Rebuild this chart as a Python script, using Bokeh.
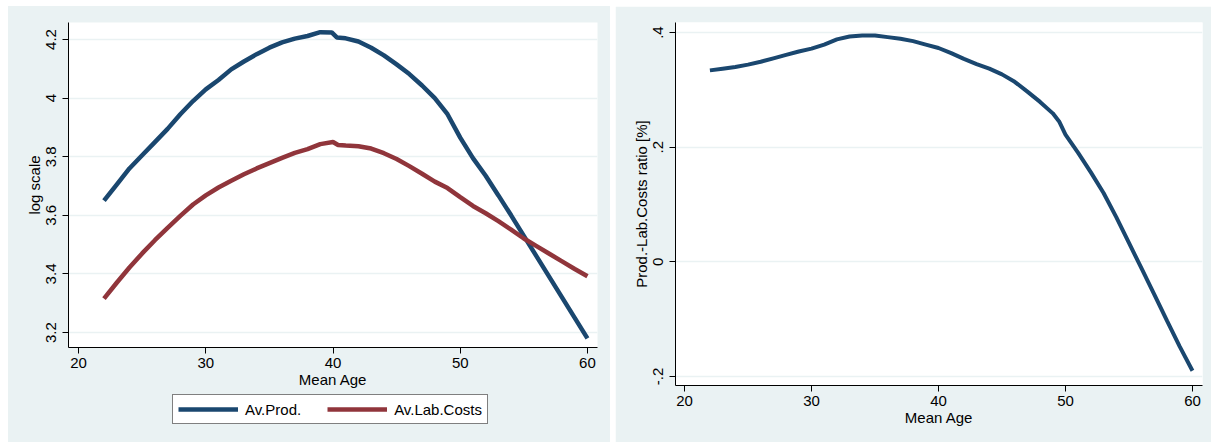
from bokeh.plotting import figure
from bokeh.layouts import row, column
from bokeh.models import Range1d, FixedTicker, CustomJSTickFormatter, Legend, LegendItem, Spacer
from bokeh.embed import file_html
from bokeh.resources import INLINE

# ---- data ----
age_prod = [22, 23, 24, 25, 26, 27, 28, 29, 30, 31, 32, 33, 34, 35, 36, 37, 38, 39, 39.9,
            40.3, 41, 42, 43, 44, 45, 46, 47, 48, 49, 50, 51, 52, 53, 54, 55, 56, 57, 58, 59, 60]
av_prod = [3.650, 3.705, 3.760, 3.805, 3.850, 3.895, 3.945, 3.990, 4.030, 4.062, 4.098, 4.125,
           4.150, 4.172, 4.190, 4.203, 4.212, 4.225, 4.224, 4.207, 4.204, 4.193, 4.172, 4.146,
           4.115, 4.082, 4.043, 4.000, 3.945, 3.865, 3.795, 3.735, 3.668, 3.600, 3.530, 3.460,
           3.390, 3.320, 3.250, 3.180]

age_cost = [22, 23, 24, 25, 26, 27, 28, 29, 30, 31, 32, 33, 34, 35, 36, 37, 38, 39, 40,
            40.4, 41, 42, 43, 44, 45, 46, 47, 48, 49, 50, 51, 52, 53, 54, 55, 56, 57, 58, 59, 60]
av_lab_costs = [3.316, 3.370, 3.422, 3.470, 3.515, 3.557, 3.598, 3.637, 3.668, 3.695, 3.718,
                3.740, 3.760, 3.778, 3.796, 3.813, 3.826, 3.843, 3.850, 3.840, 3.838, 3.836,
                3.828, 3.812, 3.792, 3.768, 3.742, 3.715, 3.693, 3.662, 3.632, 3.607, 3.580,
                3.551, 3.521, 3.495, 3.469, 3.443, 3.417, 3.392]

age_ratio = [22, 23, 24, 25, 26, 27, 28, 29, 30, 31, 32, 33, 34, 35, 36, 37, 38, 39, 40, 41,
             42, 43, 44, 45, 46, 47, 48, 49, 49.5, 50, 51, 52, 53, 54, 55, 56, 57, 58, 59, 60]
ratio = [0.334, 0.337, 0.340, 0.344, 0.349, 0.355, 0.361, 0.367, 0.372, 0.379, 0.388, 0.393,
         0.395, 0.395, 0.392, 0.389, 0.385, 0.379, 0.373, 0.364, 0.354, 0.345, 0.337, 0.327,
         0.314, 0.297, 0.279, 0.259, 0.245, 0.222, 0.190, 0.156, 0.120, 0.078, 0.033, -0.012,
         -0.057, -0.103, -0.148, -0.190]

series_labels = ["Av.Prod.", "Av.Lab.Costs"]
x_ticks = [20, 30, 40, 50, 60]
y_ticks_left = [3.2, 3.4, 3.6, 3.8, 4.0, 4.2]
y_ticks_right = [-0.2, 0.0, 0.2, 0.4]

BG = "#EAF2F3"
NAVY = "#1A476F"
MAROON = "#90353B"
FONT = "Liberation Sans"
FS = "15px"


def style(p, yticks, fmt_code):
    p.xaxis.ticker = FixedTicker(ticks=x_ticks)
    p.yaxis.ticker = FixedTicker(ticks=yticks)
    p.yaxis.formatter = CustomJSTickFormatter(code=fmt_code)
    p.xaxis.formatter = CustomJSTickFormatter(code="return Math.round(tick).toString();")
    for ax in (p.xaxis, p.yaxis):
        ax.axis_line_color = "#000000"
        ax.axis_line_width = 1
        ax.major_tick_line_color = "#000000"
        ax.major_tick_out = 6
        ax.major_tick_in = 0
        ax.minor_tick_line_color = None
        ax.major_label_text_font = FONT
        ax.major_label_text_font_size = FS
        ax.major_label_text_color = "#000000"
        ax.axis_label_text_font = FONT
        ax.axis_label_text_font_size = FS
        ax.axis_label_text_font_style = "normal"
        ax.axis_label_text_color = "#000000"
    p.yaxis.major_label_orientation = "vertical"
    p.yaxis.major_label_standoff = 6
    p.yaxis.axis_label_standoff = 1
    p.xaxis.major_label_standoff = 4
    p.xaxis.axis_label_standoff = 0
    p.xgrid.grid_line_color = None
    p.ygrid.grid_line_color = BG
    p.ygrid.grid_line_width = 1.5


# ---- left panel ----
p1 = figure(width=602, height=386,
            x_range=Range1d(19.21, 60.79), y_range=Range1d(3.149, 4.258),
            output_backend="svg", toolbar_location=None, frame_align=False,
            min_border_left=60, min_border_right=13, min_border_top=16, min_border_bottom=45,
            border_fill_color=BG, background_fill_color="white", outline_line_color=None)
style(p1, y_ticks_left, "return (Math.round(tick*10)/10).toString();")
p1.xaxis.axis_label = "Mean Age"
p1.yaxis.axis_label = "log scale"

p1.line(age_prod, av_prod, line_color=NAVY, line_width=4.5)
p1.line(age_cost, av_lab_costs, line_color=MAROON, line_width=4.5)

# legend strip below the left panel (same background), holding the key.
# The key lines use the same series; they fall outside this strip's ranges.
pl = figure(width=602, height=50, x_range=Range1d(0, 1), y_range=Range1d(0, 1),
            output_backend="svg", toolbar_location=None, frame_align=False,
            min_border=0, min_border_left=0, min_border_right=0,
            min_border_top=0, min_border_bottom=0,
            border_fill_color=BG, background_fill_color=BG, outline_line_color=None)
pl.axis.visible = False
pl.grid.visible = False
k1 = pl.line(age_prod, av_prod, line_color=NAVY, line_width=4.5)
k2 = pl.line(age_cost, av_lab_costs, line_color=MAROON, line_width=4.5)
legend = Legend(items=[LegendItem(label=series_labels[0], renderers=[k1]),
                       LegendItem(label=series_labels[1], renderers=[k2])],
                orientation="horizontal", location=(164, 18),
                border_line_color="#000000", border_line_width=1,
                background_fill_color="white", background_fill_alpha=1,
                label_text_font=FONT, label_text_font_size=FS,
                label_text_color="#000000", label_height=18,
                glyph_width=60, glyph_height=18, label_standoff=7,
                spacing=26, padding=5, margin=0)
pl.add_layout(legend)

left = column(p1, pl, spacing=0, styles={"background-color": BG})

# ---- right panel ----
p2 = figure(width=596, height=436,
            x_range=Range1d(19.29, 60.79), y_range=Range1d(-0.2157, 0.4175),
            output_backend="svg", toolbar_location=None, frame_align=False,
            min_border_left=60, min_border_right=9, min_border_top=16, min_border_bottom=57,
            border_fill_color=BG, background_fill_color="white", outline_line_color=None)
style(p2, y_ticks_right,
      "let s = (Math.round(tick*10)/10).toString(); return s.replace('0.', '.');")
p2.xaxis.axis_label = "Mean Age"
p2.yaxis.axis_label = "Prod.-Lab.Costs ratio [%]"
p2.line(age_ratio, ratio, line_color=NAVY, line_width=4)

layout = column(Spacer(width=1211, height=6),
                row(Spacer(width=3, height=436), left, p2, spacing=5),
                spacing=0)
open("out.html", "w").write(file_html(layout, INLINE))
